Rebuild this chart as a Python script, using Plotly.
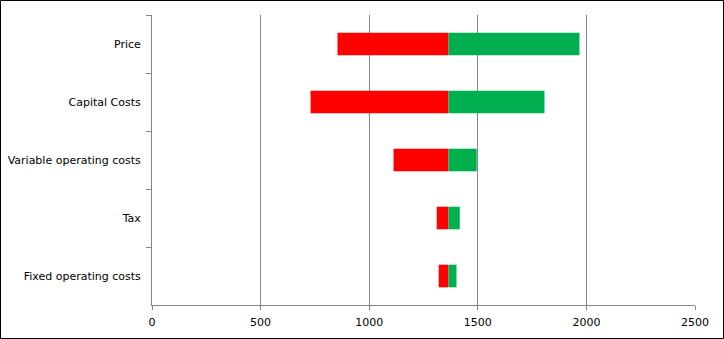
import plotly.graph_objects as go

categories = ["Price", "Capital Costs", "Variable operating costs", "Tax", "Fixed operating costs"]
base_value = 1365
low_values = [854, 730, 1112, 1311, 1320]
high_values = [1968, 1807, 1495, 1417, 1402]
x_ticks = [0, 500, 1000, 1500, 2000, 2500]

W, H = 724, 339
ml, mr, mt, mb = 152, 29, 15, 34
pw, ph = W - ml - mr, H - mt - mb

fig = go.Figure()
fig.add_trace(go.Bar(
    y=categories, x=[v - base_value for v in low_values], base=base_value,
    orientation="h", marker=dict(color="#FF0000", line=dict(width=0)),
    width=0.39, name="Low", hoverinfo="x+y"))
fig.add_trace(go.Bar(
    y=categories, x=[v - base_value for v in high_values], base=base_value,
    orientation="h", marker=dict(color="#00B050", line=dict(width=0)),
    width=0.39, name="High", hoverinfo="x+y"))

axis_col = "#868686"
tick_font = dict(family="DejaVu Sans, Verdana, sans-serif", size=11, color="#000000")
fig.update_layout(
    template="none",
    width=W, height=H, barmode="overlay", showlegend=False,
    margin=dict(l=ml, r=mr, t=mt, b=mb, pad=0),
    paper_bgcolor="white", plot_bgcolor="white",
    font=tick_font,
    xaxis=dict(range=[0, 2500], tickvals=x_ticks, ticktext=[str(t) for t in x_ticks],
               tickfont=tick_font,
               showgrid=True, gridcolor=axis_col, gridwidth=1,
               showline=True, linecolor=axis_col, linewidth=1,
               ticks="outside", ticklen=4, tickcolor=axis_col, zeroline=False,
               ticklabelstandoff=3, fixedrange=True),
    yaxis=dict(categoryorder="array", categoryarray=categories, autorange="reversed",
               tickfont=tick_font,
               showgrid=False, showline=True, linecolor=axis_col, linewidth=1,
               ticks="outside", ticklen=5, tickcolor=axis_col, tickson="boundaries",
               ticklabelstandoff=8, zeroline=False, fixedrange=True),
    shapes=[dict(type="rect", xref="paper", yref="paper",
                 x0=(0.5 - ml) / pw, x1=(W - 0.5 - ml) / pw,
                 y0=(ph - (H - 0.5 - mt)) / ph, y1=(ph - (0.5 - mt)) / ph,
                 line=dict(color="black", width=1), layer="above")],
)
fig.write_html("out.html")
